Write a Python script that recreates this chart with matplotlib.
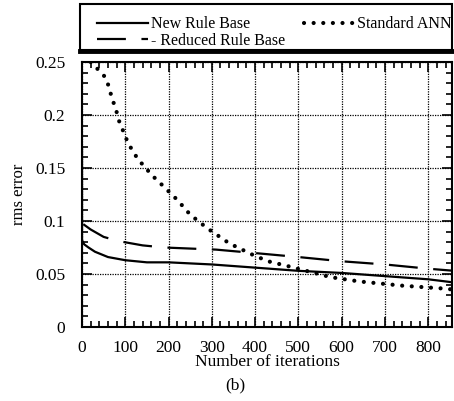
import matplotlib
matplotlib.use('Agg')
import matplotlib.pyplot as plt
from matplotlib.ticker import MultipleLocator, FixedLocator, FixedFormatter
from matplotlib.patches import Rectangle
from matplotlib.lines import Line2D

plt.rcParams['font.family'] = ['Liberation Serif', 'DejaVu Serif']

# New Rule Base (solid)
new_x = [0, 0, 5, 15, 30, 60, 100, 150, 200, 300, 400, 500, 600, 700, 800, 860]
new_y = [0.17, 0.082, 0.078, 0.075, 0.071, 0.066, 0.063, 0.061, 0.061, 0.059,
         0.056, 0.053, 0.051, 0.048, 0.045, 0.042]

# Reduced Rule Base (dashed)
red_x = [3, 20, 50, 85, 140, 190, 250, 310, 420, 500, 600, 700, 800, 860]
red_y = [0.097, 0.092, 0.085, 0.081, 0.077, 0.075, 0.074, 0.073, 0.069, 0.066,
         0.062, 0.059, 0.055, 0.053]

# Standard ANN (dotted)
ann_x = [20, 37, 53, 62, 69, 78, 85, 95, 105, 117, 130, 145, 162, 180, 200, 220,
         250, 290, 340, 395, 430, 480, 575, 640, 740, 845, 860]
ann_y = [0.25, 0.243, 0.236, 0.227, 0.216, 0.206, 0.195, 0.185, 0.175, 0.166,
         0.158, 0.151, 0.143, 0.136, 0.128, 0.12, 0.106, 0.093, 0.079, 0.068,
         0.062, 0.057, 0.047, 0.043, 0.039, 0.036, 0.035]

labels = ['New Rule Base', '- Reduced Rule Base', 'Standard ANN']
ytick_vals = [0, 0.05, 0.1, 0.15, 0.2, 0.25]
ytick_text = ['0', '0.05', '0.1', '0.15', '0.2', '0.25']

fig = plt.figure(figsize=(4.54, 4.01), dpi=100)
ax = fig.add_axes([82/454, 1-327/401, 370/454, 265/401])

l1, = ax.plot(new_x, new_y, 'k-', lw=1.6)
l2, = ax.plot(red_x, red_y, 'k-', lw=1.6)
l2.set_dashes([13, 7])
l3, = ax.plot(ann_x, ann_y, 'k', lw=3.0, dash_capstyle='round')
l3.set_dashes([0.01, 2.3])

ax.set_xlim(0, 855)
ax.set_ylim(0, 0.25)
ax.xaxis.set_major_locator(MultipleLocator(100))
ax.xaxis.set_minor_locator(MultipleLocator(20))
ax.yaxis.set_major_locator(FixedLocator(ytick_vals))
ax.yaxis.set_major_formatter(FixedFormatter(ytick_text))
ax.yaxis.set_minor_locator(MultipleLocator(0.01))
ax.tick_params(which='both', direction='in', top=True, right=True, labelsize=12.5)
ax.tick_params(which='major', length=7, width=1.2)
ax.tick_params(which='minor', length=4, width=1.2)
ax.tick_params(axis='y', pad=12)
ax.tick_params(axis='x', pad=9)
ax.grid(True, which='major', color='k', ls=(0, (1, 1)), lw=0.9)
for s in ax.spines.values():
    s.set_linewidth(1.5)

ax.set_xlabel('Number of iterations', fontsize=12.5, labelpad=-1)
ax.set_ylabel('rms error', fontsize=12, labelpad=6)

# legend box above the axes
fig.patches.append(Rectangle((80/454, 1-50/401), 372/454, 46/401, transform=fig.transFigure,
                             fill=False, ec='k', lw=1.5))
fig.add_artist(Line2D([80/454, 452/454], [1-51/401, 1-51/401], transform=fig.transFigure,
                      color='k', lw=3.5))
h1 = Line2D([], [], color='k', lw=1.6)
h2 = Line2D([], [], color='k', lw=1.6, dashes=[13, 7])
h3 = Line2D([], [], color='k', lw=3.0, dash_capstyle='round', dashes=[0.01, 2.3])
fig.legend([h1, h2, h3], labels, ncol=2, loc='upper left',
           bbox_to_anchor=(86/454, 1-5/401), frameon=False, fontsize=11.5,
           handlelength=3.2, handletextpad=0.15, columnspacing=1.2,
           labelspacing=0.05, borderpad=0.2)

fig.text(235/454, 0.04, '(b)', ha='center', va='center', fontsize=12.5)

fig.savefig('out.png', dpi=100)
